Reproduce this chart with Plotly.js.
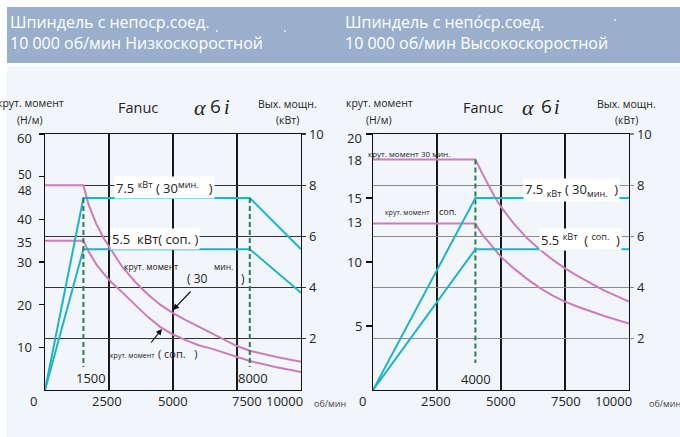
<!DOCTYPE html>
<html>
<head>
<meta charset="utf-8">
<script src="https://cdn.plot.ly/plotly-3.0.1.min.js"></script>
<style>
  html, body { margin: 0; padding: 0; background: #ffffff; }
  #chart { width: 680px; height: 437px; }
</style>
</head>
<body>
<div id="chart"></div>
<script>
// ---------- DATA ----------
// Left chart: low speed spindle (torque in Н/м, power in кВт, speed in об/мин)
const lsSpeedT = [0, 1500, 1700, 2000, 2300, 2600, 3000, 3500, 4000, 4500, 5000, 5500, 6000, 6500, 7000, 7500, 8000, 9000, 10000];
const lsTorque30 = [48, 48, 43.5, 39, 35.5, 32.6, 29, 25.5, 22.5, 20, 18, 16.4, 14.9, 13.3, 11.8, 10.3, 9.2, 7.8, 6.6];
const lsTorqueCont = [35, 35, 32.5, 29.5, 27.2, 25.2, 23, 20, 17.2, 14.8, 13, 11.7, 10.5, 9.7, 8.7, 7.7, 6.8, 5.4, 4.2];
const lsPowSpeed = [0, 1500, 8000, 10000];
const lsPow30 = [0, 7.5, 7.5, 5.5];
const lsPowCont = [0, 5.5, 5.5, 3.8];
const lsMarks = [1500, 8000];
const lsMarkText = ['1500', '8000'];

// Right chart: high speed spindle
const hsSpeedT = [0, 4000, 4250, 4500, 4750, 5000, 5500, 6000, 6500, 7000, 7500, 8000, 9000, 10000];
const hsTorque30 = [18, 18, 17, 16, 15.1, 14.3, 13, 11.9, 11, 10.2, 9.5, 8.9, 7.8, 6.9];
const hsTorqueCont = [13, 13, 12.2, 11.6, 11, 10.4, 9.5, 8.7, 8, 7.4, 6.9, 6.5, 5.8, 5.2];
const hsPowSpeed = [0, 4000, 10000];
const hsPow30 = [0, 7.5, 7.5];
const hsPowCont = [0, 5.5, 5.5];
const hsMarks = [4000];
const hsMarkText = ['4000'];

// Tick labels
const xTickVals = [0, 2500, 5000, 7500, 10000];
const xTickText = ['0', '2500', '5000', '7500', '10000'];
const lsTorqueTicks = [10, 20, 30, 35, 40, 48, 50, 60];
const lsTorqueMarks = [10, 20, 30, 40, 50, 60];
const hsTorqueTicks = [5, 10, 13, 15, 18, 20];
const hsTorqueMarks = [5, 10, 15, 20];
const powerTicks = [2, 4, 6, 8, 10];

// ---------- STYLE ----------
const W = 680, H = 437;
const PINK = '#CC7CB7', CYAN = '#1EB4C6', GREEN = '#2E7A4C';
const FONT = 'Open Sans, Noto Sans, sans-serif';
const SERIF = 'Liberation Serif, DejaVu Serif, serif';
const px = x => x / W;
const py = y => 1 - y / H;

function note(text, x, y, size, opts) {
  return Object.assign({
    text: text, x: px(x), y: py(y), xref: 'paper', yref: 'paper',
    showarrow: false, font: {family: FONT, size: size, color: '#222'},
    xanchor: 'center', yanchor: 'middle'
  }, opts || {});
}
function dot(x, y) {
  return {type: 'rect', xref: 'paper', yref: 'paper', x0: px(x - 0.8), x1: px(x + 0.8), y0: py(y + 0.8), y1: py(y - 0.8),
    fillcolor: '#ffffff', line: {width: 0}, layer: 'above'};
}

const pinkLine = {color: PINK, width: 2};
const cyanLine = {color: CYAN, width: 2};
const traces = [
  {x: lsSpeedT, y: lsTorque30, xaxis: 'x', yaxis: 'y', mode: 'lines', line: pinkLine},
  {x: lsSpeedT, y: lsTorqueCont, xaxis: 'x', yaxis: 'y', mode: 'lines', line: pinkLine},
  {x: lsPowSpeed, y: lsPow30, xaxis: 'x', yaxis: 'y2', mode: 'lines', line: cyanLine},
  {x: lsPowSpeed, y: lsPowCont, xaxis: 'x', yaxis: 'y2', mode: 'lines', line: cyanLine},
  {x: hsSpeedT, y: hsTorque30, xaxis: 'x2', yaxis: 'y3', mode: 'lines', line: pinkLine},
  {x: hsSpeedT, y: hsTorqueCont, xaxis: 'x2', yaxis: 'y3', mode: 'lines', line: pinkLine},
  {x: hsPowSpeed, y: hsPow30, xaxis: 'x2', yaxis: 'y4', mode: 'lines', line: cyanLine},
  {x: hsPowSpeed, y: hsPowCont, xaxis: 'x2', yaxis: 'y4', mode: 'lines', line: cyanLine}
];
lsMarks.forEach(m => traces.push({x: [m, m], y: [7.5, 0.9], xaxis: 'x', yaxis: 'y2', mode: 'lines',
  line: {color: GREEN, width: 2, dash: '5px,3px'}}));
hsMarks.forEach(m => traces.push({x: [m, m], y: [18, 2.1], xaxis: 'x2', yaxis: 'y3', mode: 'lines',
  line: {color: GREEN, width: 2, dash: '5px,3px'}}));
traces.forEach(t => { t.hoverinfo = 'skip'; t.showlegend = false; });

const yDom = [47 / H, 303 / H];
const baseX = {range: [0, 10000], tickvals: [2500, 5000, 7500], showticklabels: false, ticks: '',
  showgrid: true, gridcolor: '#1a1a1a', gridwidth: 1.3, showline: true, mirror: true,
  linecolor: '#111', linewidth: 1.3, zeroline: false, fixedrange: true};
const tickFont = {family: FONT, size: 13, color: '#222'};

const layout = {
  width: W, height: H, margin: {l: 0, r: 0, t: 0, b: 0},
  paper_bgcolor: '#ffffff', plot_bgcolor: '#ffffff', showlegend: false,
  xaxis: Object.assign({}, baseX, {domain: [45 / W, 301 / W], anchor: 'y'}),
  xaxis2: Object.assign({}, baseX, {domain: [373 / W, 629 / W], anchor: 'y3'}),
  yaxis: {domain: yDom, anchor: 'x', range: [0, 60], tickvals: lsTorqueMarks, ticks: 'outside', ticklen: 5,
    tickcolor: '#111', tickwidth: 1.2, showticklabels: false, showgrid: false, showline: true, linecolor: '#111',
    linewidth: 1.3, zeroline: false},
  yaxis2: {overlaying: 'y', side: 'right', anchor: 'x', range: [0, 10], tickvals: powerTicks, ticktext: powerTicks.map(String),
    ticks: 'outside', ticklen: 4, tickcolor: '#333', tickwidth: 1.3, tickfont: tickFont, showgrid: true, gridcolor: '#333', gridwidth: 1.3,
    showline: true, linecolor: '#111', linewidth: 1.3, zeroline: false},
  yaxis3: {domain: yDom, anchor: 'x2', range: [0, 20], tickvals: hsTorqueMarks, ticks: 'outside', ticklen: 6,
    tickcolor: '#111', tickwidth: 1.2, showticklabels: false, showgrid: false, showline: true, linecolor: '#111',
    linewidth: 1.3, zeroline: false},
  yaxis4: {overlaying: 'y3', side: 'right', anchor: 'x2', range: [0, 10], tickvals: powerTicks, ticktext: powerTicks.map(String),
    ticks: 'outside', ticklen: 4, tickcolor: '#888', tickwidth: 1.3, tickfont: tickFont, showgrid: true, gridcolor: '#8a8a8a', gridwidth: 1.3,
    showline: true, linecolor: '#111', linewidth: 1.3, zeroline: false},
  shapes: [
    {type: 'rect', xref: 'paper', yref: 'paper', x0: px(7), x1: 1, y0: 0, y1: py(66), fillcolor: '#F2F6FB', line: {width: 0}, layer: 'below'},
    {type: 'rect', xref: 'paper', yref: 'paper', x0: px(7), x1: 1, y0: py(63), y1: py(7), fillcolor: '#9AAFCB', line: {width: 0}, layer: 'below'},
    dot(217, 31), dot(285, 31), dot(615, 20)
  ],
  annotations: []
};

const A = layout.annotations;
// headers
const headFont = {family: FONT, size: 16, color: '#ffffff'};
A.push(note('Шпиндель с непоср.соед.<br>10 000 об/мин Низкоскоростной', 8, 33, 16, {xanchor: 'left', align: 'left', font: headFont}));
A.push(note('Шпиндель с непо́ср.соед.<br>10 000 об/мин Высокоскоростной', 343, 33, 16, {xanchor: 'left', align: 'left', font: headFont}));

// chart heads: [torque label x, Fanuc x, alpha x, 6 x, i x, power label x]
[[30, 138, 200, 215, 227, 287], [379, 483, 528, 546, 557, 626]].forEach(function (c) {
  A.push(note('крут. момент', c[0], 103, 10.5));
  A.push(note('(Н/м)', c[0], 120, 10.5));
  A.push(note('Fanuc', c[1], 107, 14.5));
  A.push(note('α', c[2], 107, 22, {font: {family: SERIF, size: 22, color: '#222', style: 'italic'}}));
  A.push(note('6', c[3], 106, 19));
  A.push(note('i', c[4], 107, 20, {font: {family: SERIF, size: 20, color: '#222', style: 'italic'}}));
  A.push(note('Вых. мощн.', c[5], 104, 10.5));
  A.push(note('(кВт)', c[5], 120, 10.5));
});
A.push(note('об/мин', 312, 403, 9, {xanchor: 'left', font: {family: FONT, size: 9, color: '#444'}}));
A.push(note('об/мин', 647, 403, 9, {xanchor: 'left', font: {family: FONT, size: 9, color: '#444'}}));

// torque tick labels (right aligned, left of the torque axes)
const lsTickShift = {60: -4, 50: 2, 48: -5, 35: -1};
const smallTick = {family: FONT, size: 12, color: '#222'};
lsTorqueTicks.forEach(function (v) {
  A.push({text: String(v), x: px(34), xref: 'paper', y: v, yref: 'y', yshift: lsTickShift[v] || 0, showarrow: false,
    font: (v === 48 || v === 50) ? smallTick : tickFont, xanchor: 'right', yanchor: 'middle'});
});
const hsTickShift = {20: -4, 13: 2};
hsTorqueTicks.forEach(function (v) {
  A.push({text: String(v), x: px(364), xref: 'paper', y: v, yref: 'y3', yshift: hsTickShift[v] || 0, showarrow: false,
    font: tickFont, xanchor: 'right', yanchor: 'middle'});
});

// x tick labels
const lsShift = [-12, -2, 0, 10, -17];
const hsShift = [-11, -1, 0, 1, -16];
xTickVals.forEach(function (v, i) {
  A.push({text: xTickText[i], x: v, xref: 'x', y: py(401), yref: 'paper', xshift: lsShift[i], showarrow: false,
    font: tickFont, xanchor: 'center', yanchor: 'middle'});
  A.push({text: xTickText[i], x: v, xref: 'x2', y: py(401), yref: 'paper', xshift: hsShift[i], showarrow: false,
    font: tickFont, xanchor: 'center', yanchor: 'middle'});
});
// mark labels
lsMarks.forEach(function (m, i) {
  A.push({text: lsMarkText[i], x: m, xref: 'x', y: py(378), yref: 'paper', xshift: i === 0 ? 8 : 3, showarrow: false,
    font: tickFont, xanchor: 'center', yanchor: 'middle'});
});
hsMarks.forEach(function (m, i) {
  A.push({text: hsMarkText[i], x: m, xref: 'x2', y: py(379), yref: 'paper', xshift: 1, showarrow: false,
    font: tickFont, xanchor: 'center', yanchor: 'middle'});
});

const NB = '\u00A0';
// left chart labels
A.push(note('7.5' + NB + '<sup>кВт</sup> ( 30<sup>мин.</sup>' + NB + NB + NB + ')', 164, 188, 13, {bgcolor: '#ffffff', borderpad: 1}));
A.push(note('5.5' + NB + NB + 'кВт( соп. )', 155, 239, 13, {bgcolor: '#ffffff', borderpad: 1}));
A.push(note('крут. момент', 151, 266, 8.5));
A.push(note('мин.', 223, 266, 8.5));
A.push(note('( 30', 197, 278, 12));
A.push(note(')', 243, 278, 12));
A.push(note('крут. момент', 132, 355, 7));
A.push(note('( соп.' + NB + NB + NB + ')', 178, 353, 11));
A.push({text: '', x: px(173), y: py(310), xref: 'paper', yref: 'paper', ax: 19, ay: -20, showarrow: true,
  arrowhead: 2, arrowsize: 1, arrowwidth: 1.2, arrowcolor: '#111', standoff: 0});
A.push({text: '', x: px(162), y: py(329), xref: 'paper', yref: 'paper', ax: -12, ay: 15, showarrow: true,
  arrowhead: 2, arrowsize: 1, arrowwidth: 1.2, arrowcolor: '#111', standoff: 0});

// right chart labels
A.push(note('крут. момент 30 мин.', 409, 153, 8));
A.push(note('7.5' + NB + '<sub>кВт</sub> ( 30<sub>мин.</sub>' + NB + NB + ')', 571, 190, 13, {bgcolor: '#ffffff', borderpad: 1}));
A.push(note('крут. момент', 407, 212, 7));
A.push(note('соп.', 448, 211, 9));
A.push(note('5.5' + NB + '<sup>кВт</sup>' + NB + NB + '( <sup>соп.</sup>' + NB + NB + ')', 580, 239, 13, {bgcolor: '#ffffff', borderpad: 1}));

Plotly.newPlot('chart', traces, layout, {staticPlot: true, displayModeBar: false});
</script>
</body>
</html>
